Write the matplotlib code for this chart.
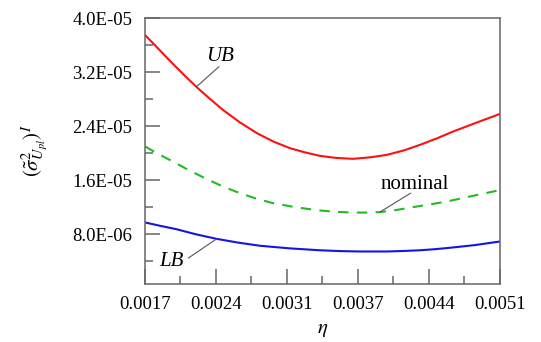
import matplotlib
matplotlib.use("Agg")
import matplotlib.pyplot as plt
import numpy as np
from matplotlib.ticker import FixedLocator, FormatStrFormatter

plt.rcParams["font.family"] = ["Liberation Serif", "DejaVu Serif"]
plt.rcParams["mathtext.fontset"] = "stix"

# eta values and variance bounds (units of 1e-6)
eta_ub = [0.001700, 0.001825, 0.001949, 0.002074, 0.002198, 0.002323,
          0.002447, 0.002610, 0.002773, 0.002926, 0.003089, 0.003232,
          0.003376, 0.003529, 0.003692, 0.003855, 0.004018, 0.004180,
          0.004334, 0.004496, 0.004650, 0.004870, 0.005100]
ub = [37.53, 35.53, 33.53, 31.60, 29.75, 28.04,
      26.41, 24.56, 22.96, 21.75, 20.74, 20.12,
      19.60, 19.30, 19.16, 19.38, 19.75, 20.41,
      21.23, 22.19, 23.20, 24.49, 25.82]

eta_nom = [0.001700, 0.001834, 0.001968, 0.002131, 0.002294, 0.002447,
           0.002610, 0.002763, 0.002926, 0.003146, 0.003376, 0.003529,
           0.003692, 0.003817, 0.003950, 0.004104, 0.004267, 0.004429,
           0.004592, 0.004841, 0.005100]
nominal = [21.00, 19.82, 18.76, 17.38, 16.15, 15.05,
           14.07, 13.27, 12.59, 11.97, 11.50, 11.30,
           11.20, 11.19, 11.26, 11.56, 12.00, 12.40,
           12.83, 13.67, 14.52]

eta_lb = [0.001700, 0.001844, 0.001997, 0.002188, 0.002385, 0.002591,
          0.002801, 0.003089, 0.003376, 0.003568, 0.003759, 0.004018,
          0.004180, 0.004334, 0.004477, 0.004621, 0.004860, 0.005100]
lb = [9.73, 9.23, 8.74, 7.97, 7.30, 6.74,
      6.27, 5.88, 5.60, 5.48, 5.42, 5.42,
      5.50, 5.60, 5.76, 5.97, 6.37, 6.90]

x_ticks = np.linspace(0.0017, 0.0051, 6)
y_ticks = [8.0e-6, 1.6e-5, 2.4e-5, 3.2e-5, 4.0e-5]
y_minor = [4.0e-6, 1.2e-5, 2.0e-5, 2.8e-5, 3.6e-5]

scale = 1e-6

fig = plt.figure(figsize=(5.41, 3.42), dpi=100)
ax = fig.add_axes([0.268, 0.1696, 0.656, 0.7769])

ax.plot(eta_ub, np.array(ub) * scale, color="#ff1010", lw=1.5)
ax.plot(eta_nom, np.array(nominal) * scale, color="#22bb22", lw=1.5,
        dashes=(5, 4))
ax.plot(eta_lb, np.array(lb) * scale, color="#1515e0", lw=1.5)

ax.set_xlim(0.0017, 0.0051)
ax.set_ylim(0.6e-6, 4.0e-5)

ax.xaxis.set_major_locator(FixedLocator(x_ticks))
ax.xaxis.set_minor_locator(FixedLocator((x_ticks[:-1] + x_ticks[1:]) / 2))
ax.xaxis.set_major_formatter(FormatStrFormatter("%.4f"))
ax.yaxis.set_major_locator(FixedLocator(y_ticks))
ax.yaxis.set_minor_locator(FixedLocator(y_minor))
ax.yaxis.set_major_formatter(FormatStrFormatter("%.1E"))

edge = "#666666"
for s in ax.spines.values():
    s.set_color(edge)
    s.set_linewidth(1.1)
ax.tick_params(which="both", direction="in", color=edge, width=1.1,
               top=False, right=False, labelsize=13.5, labelcolor="black")
ax.tick_params(which="major", length=11)
ax.tick_params(which="minor", length=6)
ax.tick_params(axis="both", pad=9)

ax.set_xlabel(r"$\eta$", fontsize=15, labelpad=5)
ax.set_ylabel(r"$(\tilde{\sigma}^{2}_{U_{pl}})^{I}$", fontsize=15, labelpad=16)

# curve labels with leader lines
lead = dict(arrowstyle="-", color="#555555", lw=0.8, shrinkA=0, shrinkB=0)

ax.text(0.002418, 34.31 * scale, "UB", fontsize=15, style="italic",
        ha="center", va="center")
ax.annotate("", xy=(0.002195, 29.87 * scale), xytext=(0.002409, 32.83 * scale),
            arrowprops=lead)

ax.text(0.004286, 15.38 * scale, "nominal", fontsize=15,
        ha="center", va="center")
ax.annotate("", xy=(0.003950, 11.26 * scale), xytext=(0.004245, 14.07 * scale),
            arrowprops=lead)

ax.text(0.001956, 3.94 * scale, "LB", fontsize=15, style="italic",
        ha="center", va="center")
ax.annotate("", xy=(0.002387, 7.30 * scale), xytext=(0.002115, 4.44 * scale),
            arrowprops=lead)

fig.savefig("out.png", dpi=100)
